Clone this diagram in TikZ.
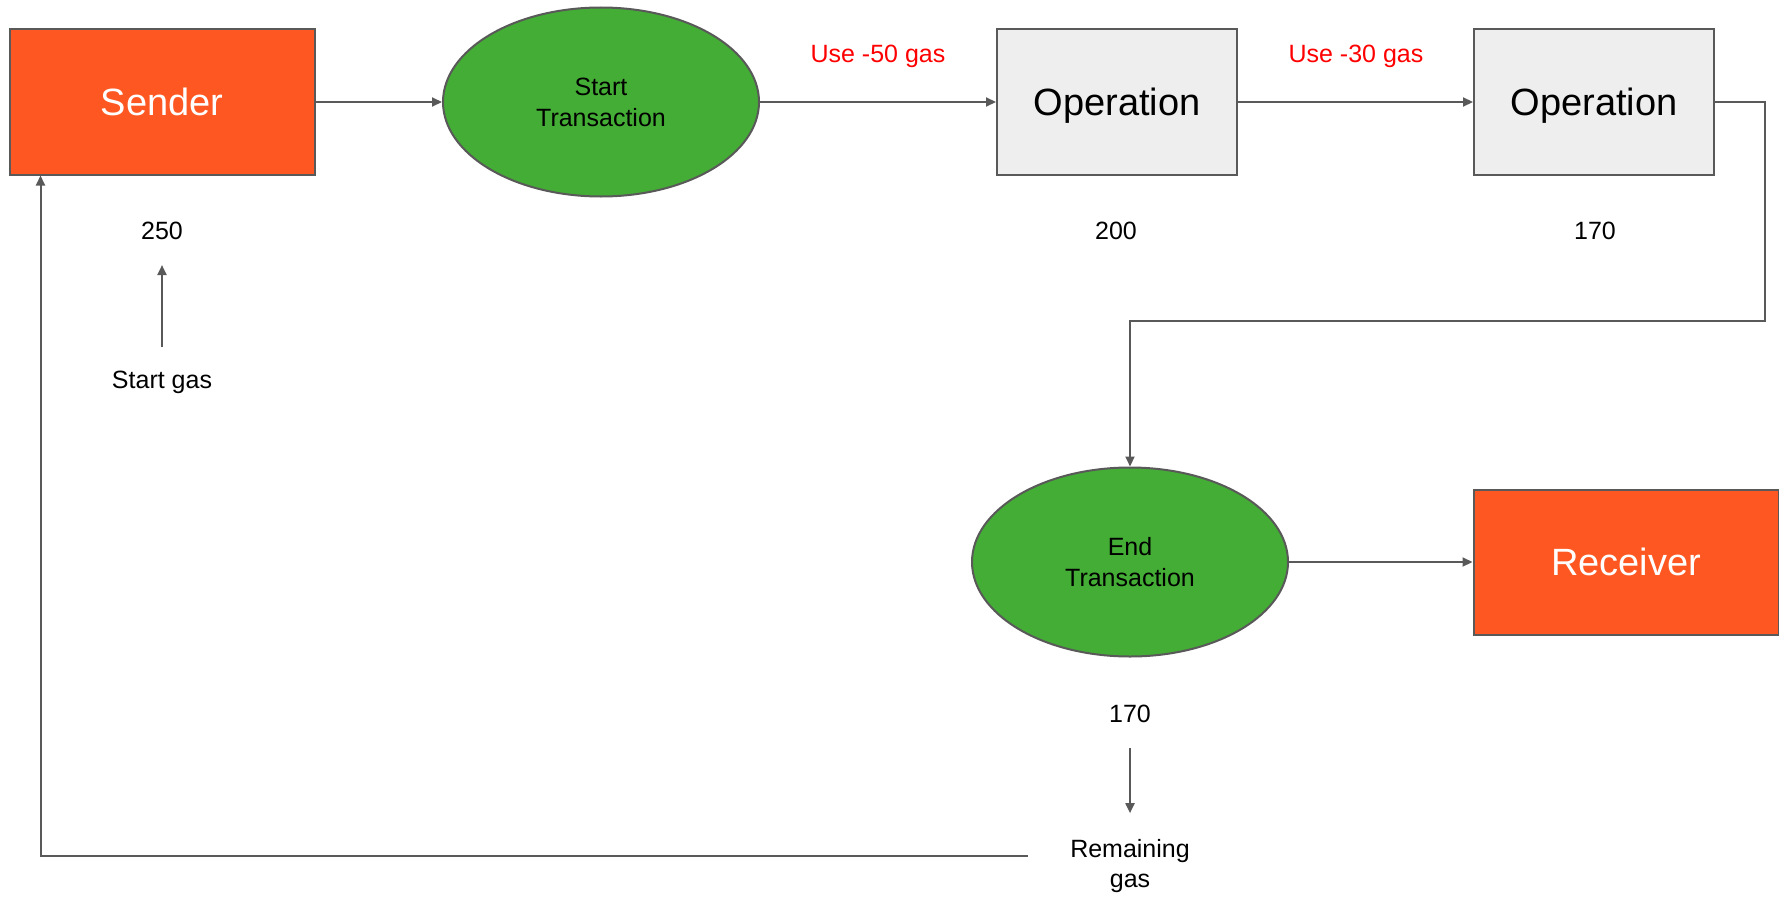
\documentclass[tikz,border=0pt]{standalone}
\usepackage{fontspec}
\setmainfont{Liberation Sans}
\usetikzlibrary{arrows.meta,shapes.geometric}

\definecolor{partyOrange}{HTML}{FF5722}
\definecolor{txGreen}{HTML}{44AD35}
\definecolor{opGray}{HTML}{EEEEEE}
\definecolor{lineGray}{HTML}{595959}

\begin{document}
\begin{tikzpicture}[x=1pt,y=-1pt,
      partyNode/.style={rectangle,draw=lineGray,line width=2pt,fill=partyOrange,text=white,text depth=0pt,
        minimum width=305pt,minimum height=145pt,inner sep=0pt,font=\fontsize{38}{44}\selectfont},
      opNode/.style={rectangle,draw=lineGray,line width=2pt,fill=opGray,text depth=0pt,
        minimum width=240pt,minimum height=145pt,inner sep=0pt,font=\fontsize{38}{44}\selectfont},
      txNode/.style={ellipse,draw=lineGray,line width=2pt,fill=txGreen,align=center,
        minimum width=316pt,minimum height=189pt,inner sep=0pt,font=\fontsize{25}{31}\selectfont},
      gasLabel/.style={inner sep=0pt,align=center,font=\fontsize{25}{30}\selectfont},
      costLabel/.style={gasLabel,text=red,text depth=0pt},
      flowLine/.style={draw=lineGray,line width=2pt},
      flowArrow/.style={flowLine,-{Triangle[length=10pt,width=9pt]}},
    ]
    \useasboundingbox (0,0) rectangle (1779,899);

    % top row
    \node[partyNode] (sender) at (162,102) {Sender};
    \node[txNode] (startTx) at (601,102) {Start\\Transaction};
    \node[opNode] (opA) at (1117,102) {Operation};
    \node[opNode] (opB) at (1594,102) {Operation};

    \node[costLabel] (useA) at (878,54) {Use -50 gas};
    \node[costLabel] (useB) at (1356,54) {Use -30 gas};

    \node[gasLabel] (gasStart) at (162,231) {250};
    \node[gasLabel] (gasA) at (1116,231) {200};
    \node[gasLabel] (gasB) at (1595,231) {170};
    \node[gasLabel] (startGas) at (162,382) {Start gas};

    % bottom row
    \node[txNode] (endTx) at (1130,562) {End\\Transaction};
    \node[partyNode] (receiver) at (1626,562) {Receiver};
    \node[gasLabel] (gasEnd) at (1130,714) {170};
    \node[gasLabel] (remaining) at (1130,866) {Remaining\\gas};

    \coordinate (bend) at (1130,321);
    \coordinate (loopStart) at (1028,856);

    \draw[flowArrow] (sender) -- (startTx);
    \draw[flowArrow] (startTx) -- (opA);
    \draw[flowArrow] (opA) -- (opB);
    \draw[flowArrow] (opB.east) -- ++(50,0) |- (bend) -- (endTx.north);
    \draw[flowArrow] (endTx) -- (receiver);

    \draw[flowArrow,shorten <=23pt,shorten >=25pt] (startGas.north) -- (gasStart.south);
    \draw[flowArrow,shorten <=25pt,shorten >=26pt] (gasEnd.south) -- (remaining.north);
    \draw[flowArrow] (loopStart) -| ([xshift=32pt]sender.south west);
\end{tikzpicture}
\end{document}
